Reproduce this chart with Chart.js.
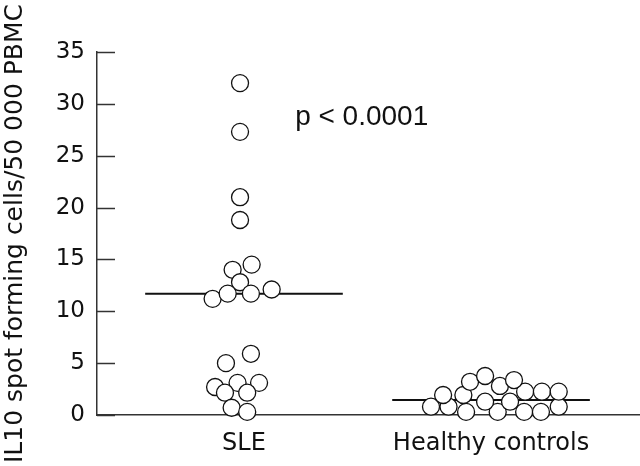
<!DOCTYPE html>
<html><head><meta charset="utf-8">
<script src="https://cdn.jsdelivr.net/npm/chart.js@4/dist/chart.umd.min.js"></script>
<style>html,body{margin:0;padding:0;background:#fff}#wrap{width:640px;height:466px;position:relative}</style>
</head><body><div id="wrap"><canvas id="c" width="640" height="466"></canvas></div>
<script>
const categories = ['SLE', 'Healthy controls'];
const sleValues = [32.0, 27.3, 21.0, 18.8, 14.5, 14.0, 12.8, 11.2, 11.7, 11.7, 12.1, 5.9, 5.0, 2.7, 3.1, 3.1, 2.15, 2.15, 0.7, 0.3];
const sleJitter = [-0.016, -0.016, -0.016, -0.016, 0.031, -0.046, -0.016, -0.127, -0.066, 0.028, 0.112, 0.028, -0.073, -0.117, -0.026, 0.061, -0.077, 0.013, -0.050, 0.013];
const healthyValues = [0.8, 0.8, 0.3, 0.3, 0.3, 0.3, 0.8, 1.93, 1.93, 1.28, 1.28, 2.25, 2.25, 2.25, 3.2, 3.76, 2.8, 3.37];
const healthyJitter = [-0.243, -0.172, -0.101, 0.027, 0.134, 0.202, 0.274, -0.194, -0.112, -0.024, 0.077, 0.138, 0.206, 0.274, -0.085, -0.024, 0.036, 0.093];
const medians = [11.7, 1.45];
const yTickValues = [0, 5, 10, 15, 20, 25, 30, 35];
const yTitle = 'IL10 spot forming cells/50 000 PBMC';
const pLabel = 'p < 0.0001';

const groupPos = [1, 2];
const medianHalf = 0.4;

function pts(vals, jit, center) {
  return vals.map((v, i) => ({ x: center + jit[i], y: v }));
}

const inwardTicks = {
  id: 'inwardTicks',
  afterDatasetsDraw(chart) {
    const ctx = chart.ctx, y = chart.scales.y;
    ctx.save();
    ctx.strokeStyle = '#333';
    ctx.lineWidth = 1.5;
    yTickValues.forEach(v => {
      const py = Math.round(y.getPixelForValue(v)) + 0.5;
      ctx.beginPath();
      ctx.moveTo(y.right, py);
      ctx.lineTo(y.right + 18, py);
      ctx.stroke();
    });
    ctx.restore();
  }
};

const pText = {
  id: 'pText',
  afterDatasetsDraw(chart) {
    const ctx = chart.ctx, xs = chart.scales.x, ys = chart.scales.y;
    ctx.save();
    ctx.fillStyle = '#111';
    ctx.font = '28px "Liberation Sans", sans-serif';
    ctx.textAlign = 'left';
    ctx.textBaseline = 'alphabetic';
    ctx.fillText(pLabel, xs.getPixelForValue(1.207), ys.getPixelForValue(28));
    ctx.restore();
  }
};

new Chart(document.getElementById('c'), {
  data: {
    datasets: [
      { type: 'scatter', label: categories[0], data: pts(sleValues, sleJitter, groupPos[0]),
        pointRadius: 8.5, pointBackgroundColor: '#fff', pointBorderColor: '#111', pointBorderWidth: 1.3, order: 0, clip: false },
      { type: 'scatter', label: categories[1], data: pts(healthyValues, healthyJitter, groupPos[1]),
        pointRadius: 8.5, pointBackgroundColor: '#fff', pointBorderColor: '#111', pointBorderWidth: 1.3, order: 0, clip: false },
      { type: 'line', label: 'median SLE', data: [{x: groupPos[0]-medianHalf, y: medians[0]}, {x: groupPos[0]+medianHalf, y: medians[0]}],
        borderColor: '#111', borderWidth: 2, pointRadius: 0, order: 1 },
      { type: 'line', label: 'median HC', data: [{x: groupPos[1]-medianHalf, y: medians[1]}, {x: groupPos[1]+medianHalf, y: medians[1]}],
        borderColor: '#111', borderWidth: 2, pointRadius: 0, order: 1 }
    ]
  },
  options: {
    responsive: false,
    animation: false,
    layout: { autoPadding: false, padding: { top: 52, right: 0, bottom: 0, left: 0 } },
    plugins: { legend: { display: false }, tooltip: { enabled: false } },
    scales: {
      x: {
        type: 'linear', min: 0.405, max: 2.603,
        afterBuildTicks: s => { s.ticks = groupPos.map(v => ({ value: v })); },
        afterFit: s => { s.height = 51; s.paddingLeft = 0; s.paddingRight = 0; },
        ticks: { callback: v => categories[groupPos.indexOf(v)] ?? '', color: '#111',
          font: { family: 'DejaVu Sans', size: 24 }, padding: 14, maxRotation: 0, autoSkip: false },
        grid: { display: false, drawTicks: false },
        border: { display: true, color: '#333', width: 1.5 }
      },
      y: {
        type: 'linear', min: 0, max: 35,
        afterBuildTicks: s => { s.ticks = yTickValues.map(v => ({ value: v })); },
        afterFit: s => { s.width = 97; },
        ticks: { color: '#111', font: { family: 'DejaVu Sans', size: 23 }, padding: 12 },
        grid: { display: false, drawTicks: false },
        border: { display: true, color: '#333', width: 1.5 },
        title: { display: true, text: yTitle, color: '#111', font: { family: 'DejaVu Sans', size: 25 }, padding: 0 }
      }
    }
  },
  plugins: [inwardTicks, pText]
});
</script></body></html>
